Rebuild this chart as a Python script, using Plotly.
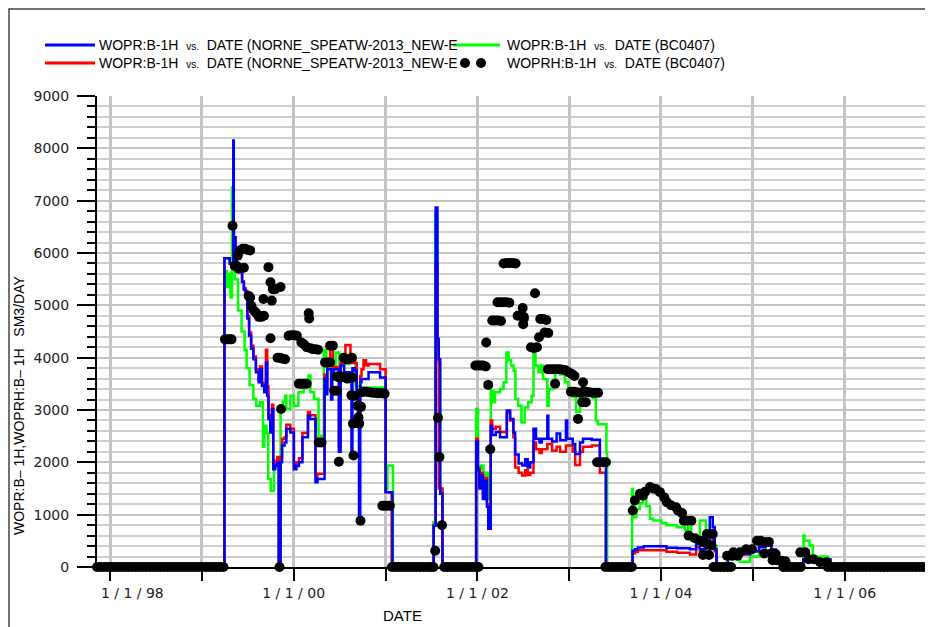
import plotly.graph_objects as go

# --- WOPR:B-1H, run NORNE_SPEATW-2013_NEW-E (blue) ---
blue_dates = ['1997-11-10', '1999-04-01', '1999-04-22', '1999-05-03', '1999-05-06', '1999-05-08', '1999-05-15',
              '1999-05-20', '1999-06-10', '1999-06-17', '1999-06-24', '1999-07-01', '1999-07-08', '1999-07-16',
              '1999-07-25', '1999-08-04', '1999-08-15', '1999-08-20', '1999-08-28', '1999-09-06', '1999-09-13',
              '1999-09-18', '1999-09-23', '1999-09-30', '1999-10-07', '1999-10-12', '1999-10-20', '1999-10-28',
              '1999-11-03', '1999-11-10', '1999-11-16', '1999-11-26', '1999-12-03', '1999-12-19', '2000-01-02',
              '2000-01-12', '2000-01-22', '2000-02-05', '2000-02-27', '2000-03-06', '2000-03-28', '2000-04-05',
              '2000-05-03', '2000-05-10', '2000-05-14', '2000-05-29', '2000-06-03', '2000-06-08', '2000-06-29',
              '2000-07-06', '2000-07-20', '2000-08-18', '2000-08-22', '2000-09-01', '2000-09-08', '2000-09-13',
              '2000-09-17', '2000-09-22', '2000-09-27', '2000-10-25', '2000-12-10', '2001-01-01', '2001-01-28',
              '2001-07-11', '2001-07-19', '2001-07-26', '2001-07-31', '2001-08-06', '2001-08-15', '2001-12-27',
              '2002-01-03', '2002-01-09', '2002-01-15', '2002-01-23', '2002-01-31', '2002-02-08', '2002-02-13',
              '2002-02-23', '2002-03-01', '2002-03-15', '2002-04-01', '2002-04-28', '2002-05-11', '2002-05-24',
              '2002-05-31', '2002-06-14', '2002-06-28', '2002-07-10', '2002-07-20', '2002-07-30', '2002-08-12',
              '2002-08-22', '2002-09-05', '2002-09-14', '2002-10-06', '2002-10-10', '2002-10-25', '2002-11-12',
              '2002-11-26', '2002-12-19', '2002-12-24', '2003-01-15', '2003-01-25', '2003-02-13', '2003-02-25',
              '2003-04-01', '2003-05-03', '2003-05-27', '2003-09-10', '2003-09-20', '2003-10-01', '2003-10-25',
              '2004-01-23', '2004-03-05', '2004-04-25', '2004-05-20', '2004-06-04', '2004-06-28', '2004-07-13',
              '2004-07-25', '2004-08-02', '2004-08-09', '2004-09-23', '2004-11-10', '2004-12-20', '2005-01-25',
              '2005-02-20', '2005-03-15', '2005-04-01', '2005-04-20', '2005-07-20', '2005-11-05', '2006-12-10']
blue_vals = [0, 5900, 5800, 5750, 8150, 6300, 5850,
             5700, 5450, 5300, 5250, 4750, 4420, 4170,
             3970, 3720, 3530, 3780, 3460, 3340, 3910,
             3270, 2830, 2570, 3020, 1870, 1940, 2000,
             0, 2000, 2320, 2380, 2640, 2570, 1870,
             1930, 2000, 2480, 2890, 2830, 1620, 1680,
             3600, 3300, 3780, 3200, 3650, 3780, 2200,
             3850, 3720, 2100, 3800, 3750, 3300, 2700,
             900, 3530, 3590, 3720, 3620, 1430, 0,
             790, 6870, 4360, 3970, 1400, 0, 2400,
             1850, 1500, 1750, 1300, 1650, 1150, 730,
             2700, 2520, 2580, 2480, 2990, 2830, 2570,
             2150, 1980, 1940, 2060, 1900, 2000, 2640,
             2450, 2380, 2450, 2890, 2450, 2400, 2550,
             2420, 2800, 2450, 2350, 2160, 2380, 2450,
             2430, 1940, 0, 310, 340, 375, 395,
             370, 360, 340, 470, 340, 375, 950,
             760, 340, 0, 180, 250, 300, 380,
             420, 330, 150, 0, 150, 0, 0]

# --- WOPR:B-1H, run NORNE_SPEATW-2013_NEW-E (red) ---
red_dates = ['1997-11-10', '1999-04-01', '1999-04-22', '1999-05-03', '1999-05-06', '1999-05-09', '1999-05-15',
             '1999-05-20', '1999-06-10', '1999-06-17', '1999-06-24', '1999-07-01', '1999-07-08', '1999-07-16',
             '1999-07-25', '1999-08-04', '1999-08-15', '1999-08-20', '1999-08-28', '1999-09-06', '1999-09-13',
             '1999-09-18', '1999-09-23', '1999-09-30', '1999-10-07', '1999-10-12', '1999-10-20', '1999-10-28',
             '1999-11-03', '1999-11-10', '1999-11-16', '1999-11-26', '1999-12-03', '1999-12-19', '2000-01-02',
             '2000-01-12', '2000-01-22', '2000-02-05', '2000-02-27', '2000-03-06', '2000-03-28', '2000-04-05',
             '2000-05-03', '2000-05-10', '2000-05-14', '2000-05-25', '2000-06-05', '2000-06-29', '2000-07-06',
             '2000-07-25', '2000-08-14', '2000-09-08', '2000-09-13', '2000-09-17', '2000-09-22', '2000-09-27',
             '2000-10-05', '2000-10-15', '2000-10-25', '2000-12-10', '2001-01-01', '2001-01-25', '2001-07-11',
             '2001-07-19', '2001-07-26', '2001-07-31', '2001-08-15', '2001-12-27', '2002-01-03', '2002-01-09',
             '2002-01-15', '2002-01-23', '2002-01-31', '2002-02-08', '2002-02-13', '2002-02-23', '2002-03-01',
             '2002-03-15', '2002-04-01', '2002-04-28', '2002-05-11', '2002-05-24', '2002-05-31', '2002-06-14',
             '2002-06-28', '2002-07-10', '2002-07-20', '2002-07-30', '2002-08-12', '2002-08-22', '2002-09-05',
             '2002-09-14', '2002-10-06', '2002-10-25', '2002-11-12', '2002-11-26', '2002-12-19', '2003-01-15',
             '2003-01-25', '2003-02-13', '2003-02-25', '2003-04-01', '2003-05-03', '2003-05-27', '2003-09-10',
             '2003-09-20', '2003-10-01', '2004-01-23', '2004-03-05', '2004-04-25', '2004-05-20', '2004-06-04',
             '2004-07-13', '2004-07-25', '2004-08-02', '2004-08-09', '2004-09-23', '2004-11-10', '2004-12-20',
             '2005-01-25', '2005-02-20', '2005-03-15', '2005-04-01', '2005-04-20', '2005-07-20', '2005-11-05',
             '2006-12-10']
red_vals = [0, 5900, 5800, 5750, 6400, 6300, 5850,
            5700, 5450, 5330, 5280, 4800, 4480, 4230,
            4020, 3780, 3580, 3830, 3520, 3400, 4150,
            3450, 2900, 2650, 3100, 1950, 2030, 2100,
            0, 2100, 2450, 2480, 2720, 2640, 1950,
            2000, 2080, 2560, 2960, 2900, 1720, 1780,
            3680, 3400, 3850, 4150, 3820, 2300, 3900,
            4240, 3900, 3350, 2800, 2650, 3650, 3780,
            3950, 3850, 3880, 3780, 1430, 0, 790,
            5800, 4200, 1500, 0, 2450, 1900, 1550,
            1800, 1350, 1700, 1200, 780, 2800, 2640,
            2680, 2580, 2950, 2800, 2480, 1900, 1800,
            1750, 1850, 1760, 1800, 2380, 2250, 2180,
            2250, 2350, 2220, 2300, 2200, 2320, 2200,
            1950, 2200, 2300, 2320, 1800, 0, 260,
            290, 320, 290, 270, 240, 380, 290,
            600, 480, 300, 0, 170, 240, 300,
            400, 440, 340, 150, 0, 130, 0,
            0]

# --- WOPR:B-1H, run BC0407 (green) ---
green_dates = ['1997-11-10', '1999-04-01', '1999-04-10', '1999-04-20', '1999-04-25', '1999-05-01', '1999-05-05',
               '1999-05-12', '1999-05-25', '1999-06-08', '1999-06-20', '1999-06-28', '1999-07-10', '1999-07-25',
               '1999-08-05', '1999-08-20', '1999-09-01', '1999-09-06', '1999-09-15', '1999-09-22', '1999-10-02',
               '1999-10-15', '1999-11-03', '1999-11-10', '1999-11-18', '1999-11-28', '1999-12-03', '1999-12-19',
               '2000-01-01', '2000-01-20', '2000-02-10', '2000-02-29', '2000-03-08', '2000-03-22', '2000-04-09',
               '2000-04-20', '2000-04-30', '2000-05-10', '2000-05-20', '2000-06-16', '2000-07-01', '2000-07-18',
               '2000-08-10', '2000-09-03', '2000-09-25', '2001-01-01', '2001-01-08', '2001-01-30', '2001-07-09',
               '2001-07-17', '2001-07-25', '2001-07-31', '2001-08-06', '2001-08-15', '2001-12-27', '2002-01-03',
               '2002-01-15', '2002-01-25', '2002-02-05', '2002-02-13', '2002-02-23', '2002-03-05', '2002-03-12',
               '2002-04-01', '2002-04-15', '2002-04-26', '2002-05-05', '2002-05-15', '2002-05-25', '2002-06-01',
               '2002-06-12', '2002-06-25', '2002-07-08', '2002-07-22', '2002-08-05', '2002-08-12', '2002-08-20',
               '2002-09-01', '2002-09-10', '2002-09-19', '2002-10-06', '2002-10-12', '2002-10-28', '2002-11-06',
               '2002-11-26', '2002-12-15', '2002-12-28', '2003-01-15', '2003-01-28', '2003-02-13', '2003-02-28',
               '2003-04-05', '2003-04-17', '2003-04-25', '2003-05-29', '2003-06-01', '2003-09-08', '2003-09-12',
               '2003-09-25', '2003-10-09', '2003-10-22', '2003-11-04', '2003-11-18', '2003-12-01', '2004-01-03',
               '2004-01-23', '2004-03-04', '2004-04-05', '2004-04-18', '2004-04-30', '2004-06-04', '2004-06-28',
               '2004-07-07', '2004-07-20', '2004-08-09', '2004-09-23', '2004-11-10', '2004-12-20', '2005-01-25',
               '2005-02-20', '2005-03-15', '2005-04-01', '2005-04-20', '2005-07-21', '2005-07-25', '2005-08-14',
               '2005-08-27', '2005-09-23', '2005-10-26', '2006-12-10']
green_vals = [0, 5650, 5350, 5600, 5150, 7250, 5950,
              5500, 4900, 4500, 4150, 3800, 3480, 3210,
              3080, 3150, 2300, 2700, 2550, 1680, 1450,
              1900, 0, 2960, 3150, 3270, 3020, 3270,
              3080, 3340, 3460, 3660, 3340, 3210, 2450,
              2510, 4150, 3900, 3780, 4100, 3850, 3880,
              3940, 3460, 3430, 1490, 1940, 0, 850,
              6750, 4300, 3900, 1500, 0, 3020, 1870,
              1940, 1620, 1800, 1300, 3370, 3150, 3340,
              3400, 3530, 4100, 3950, 3850, 3750, 3210,
              3080, 2760, 3050, 3150, 3270, 4070, 3850,
              3720, 3850, 3590, 3080, 3400, 3450, 3720,
              3680, 3530, 3400, 3250, 2960, 3210, 3270,
              3230, 2800, 2730, 2190, 0, 1490, 950,
              1110, 1220, 1330, 1160, 920, 890, 840,
              800, 760, 700, 760, 500, 890, 660,
              500, 400, 0, 150, 100, 200, 380,
              430, 300, 120, 0, 600, 500, 410,
              185, 200, 0, 0]

# --- WOPRH:B-1H, history BC0407 (black markers), producing periods ---
hist_dates = ['1999-04-03', '1999-04-12', '1999-04-21', '1999-04-29', '1999-05-03', '1999-05-12', '1999-05-20',
              '1999-05-28', '1999-05-24', '1999-06-02', '1999-06-12', '1999-06-22', '1999-07-02', '1999-07-12',
              '1999-06-17', '1999-07-06', '1999-07-12', '1999-07-17', '1999-07-27', '1999-08-06', '1999-08-16',
              '1999-08-26', '1999-09-05', '1999-09-03', '1999-10-06', '1999-09-23', '1999-10-01', '1999-10-10',
              '1999-10-20', '1999-11-10', '1999-10-01', '1999-10-29', '1999-11-08', '1999-11-18', '1999-11-28',
              '1999-11-06', '1999-11-12', '1999-12-12', '1999-12-22', '2000-01-03', '2000-01-14', '2000-01-22',
              '2000-02-01', '2000-02-11', '2000-02-22', '2000-02-01', '2000-02-12', '2000-02-22', '2000-03-08',
              '2000-03-18', '2000-03-28', '2000-04-07', '2000-03-01', '2000-03-03', '2000-04-10', '2000-04-21',
              '2000-05-05', '2000-05-15', '2000-05-25', '2000-05-25', '2000-06-05', '2000-06-10', '2000-06-20',
              '2000-06-20', '2000-07-01', '2000-07-12', '2000-07-22', '2000-08-02', '2000-08-12', '2000-08-22',
              '2000-07-18', '2000-07-28', '2000-08-08', '2000-08-20', '2000-06-29', '2000-08-26', '2000-08-18',
              '2000-08-30', '2000-09-12', '2000-09-25', '2000-09-15', '2000-08-24', '2000-09-05', '2000-09-18',
              '2000-09-23', '2000-09-28', '2000-10-08', '2000-10-18', '2000-10-28', '2000-11-08', '2000-11-18',
              '2000-11-28', '2000-12-08', '2000-12-18', '2000-12-28', '2000-12-19', '2000-12-29', '2001-01-08',
              '2001-01-18', '2001-07-17', '2001-07-28', '2001-08-03', '2001-08-13',
              '2001-12-24', '2002-01-04', '2002-01-14', '2002-01-24', '2002-02-03', '2002-02-05', '2002-02-13',
              '2002-02-21', '2002-03-01', '2002-03-12', '2002-03-24', '2002-04-05', '2002-03-22', '2002-04-02',
              '2002-04-14', '2002-04-26', '2002-05-08', '2002-04-15', '2002-04-27', '2002-05-09', '2002-05-21',
              '2002-06-02', '2002-06-10', '2002-06-22', '2002-07-04', '2002-06-30', '2002-07-05', '2002-07-02',
              '2002-08-18', '2002-09-08', '2002-09-20', '2002-10-02', '2002-09-25', '2002-10-10', '2002-09-03',
              '2002-08-02', '2002-08-14', '2002-08-26', '2002-10-08', '2002-10-20', '2002-11-01', '2002-11-13',
              '2002-11-25', '2002-12-07', '2002-11-06', '2002-12-18', '2002-12-30', '2003-01-11', '2003-01-22',
              '2003-02-25', '2003-01-08', '2003-01-20', '2003-02-01', '2003-02-13', '2003-02-25', '2003-03-09',
              '2003-03-21', '2003-04-02', '2003-04-14', '2003-04-26', '2003-02-22', '2003-03-08', '2003-02-05',
              '2003-04-22', '2003-05-03', '2003-05-15', '2003-05-27',
              '2003-09-11', '2003-09-19', '2003-10-09', '2003-10-21', '2003-10-30', '2003-11-18', '2003-12-01',
              '2003-12-12', '2003-12-28', '2004-01-14', '2004-01-24', '2004-02-10', '2004-03-01', '2004-03-08',
              '2004-03-25', '2004-04-01', '2004-04-15', '2004-05-01', '2004-04-20', '2004-05-15', '2004-06-05',
              '2004-06-20', '2004-07-05', '2004-07-20', '2004-06-16', '2004-07-10', '2004-07-02', '2004-07-25',
              '2004-09-20', '2004-10-10', '2004-11-01', '2004-10-15', '2004-11-10', '2004-12-05', '2004-12-28',
              '2005-01-17', '2005-02-01', '2005-02-18', '2005-03-05', '2005-02-15', '2005-03-15', '2005-04-01',
              '2005-03-20', '2005-04-05', '2005-04-25', '2005-05-10',
              '2005-07-08', '2005-07-28', '2005-08-10', '2005-08-30', '2005-09-25', '2005-10-20']
hist_vals = [4350, 4350, 4350, 4350, 6520, 5750, 5750,
             5700, 5950, 6050, 6080, 6080, 6060, 6050,
             5720, 5180, 5150, 4990, 4900, 4850, 4780,
             4780, 4800, 5120, 5090, 5730, 5440, 5310,
             5310, 5350, 4370, 4000, 4000, 3980, 3970,
             0, 3020, 4420, 4430, 4430, 4420, 3500,
             3500, 3500, 3500, 4290, 4250, 4200, 4180,
             4160, 4160, 4150, 4850, 4750, 2380, 2380,
             3910, 3910, 3910, 4230, 4230, 3370, 3370,
             3640, 3620, 3640, 3620, 3600, 3620, 3620,
             4000, 3970, 3980, 4000, 2010, 2130, 3280,
             3270, 3080, 3060, 2860, 2740, 2760, 2740,
             885, 3340, 3350, 3350, 3340, 3330, 3330,
             3320, 3320, 3320, 3310, 1170, 1170, 1170,
             1170, 310, 2850, 2100, 800,
             3850, 3850, 3850, 3850, 3830, 4290, 3480,
             2250, 4710, 4710, 4710, 4700, 5060, 5060,
             5060, 5060, 5050, 5800, 5810, 5810, 5810,
             5800, 4800, 4800, 4780, 4950, 4750, 4640,
             5230, 4740, 4740, 4720, 4480, 4470, 4390,
             4200, 4180, 4200, 3780, 3780, 3780, 3780,
             3780, 3770, 3500, 3760, 3720, 3690, 3650,
             3530, 3350, 3350, 3340, 3330, 3350, 3350,
             3340, 3330, 3330, 3330, 3150, 3150, 2830,
             2000, 2000, 2000, 2000,
             1080, 1270, 1400, 1360, 1440, 1530, 1500,
             1490, 1430, 1330, 1240, 1180, 1140, 1080,
             1030, 885, 885, 885, 600, 550, 500,
             470, 430, 410, 230, 230, 630, 630,
             215, 215, 215, 280, 280, 340, 340,
             500, 500, 480, 480, 260, 260, 250,
             130, 130, 120, 110,
             280, 280, 150, 150, 90, 90]

# --- WOPRH:B-1H history, report dates with zero rate (well shut) ---
hist_zero_dates = ['1997-11-10', '1997-11-24', '1997-12-08', '1997-12-22', '1998-01-05', '1998-01-19', '1998-02-02',
                   '1998-02-16', '1998-03-02', '1998-03-16', '1998-03-30', '1998-04-13', '1998-04-27', '1998-05-11',
                   '1998-05-25', '1998-06-08', '1998-06-22', '1998-07-06', '1998-07-20', '1998-08-03', '1998-08-17',
                   '1998-08-31', '1998-09-14', '1998-09-28', '1998-10-12', '1998-10-26', '1998-11-09', '1998-11-23',
                   '1998-12-07', '1998-12-21', '1999-01-04', '1999-01-18', '1999-02-01', '1999-02-15', '1999-03-01',
                   '1999-03-15', '1999-03-28',
                   '2001-01-26', '2001-02-09', '2001-02-23', '2001-03-09', '2001-03-23', '2001-04-06', '2001-04-20',
                   '2001-05-04', '2001-05-18', '2001-06-01', '2001-06-15', '2001-06-29', '2001-07-10',
                   '2001-08-22', '2001-09-05', '2001-09-19', '2001-10-03', '2001-10-17', '2001-10-31', '2001-11-14',
                   '2001-11-28', '2001-12-12', '2001-12-24', '2002-01-05',
                   '2003-05-25', '2003-06-08', '2003-06-22', '2003-07-06', '2003-07-20', '2003-08-03', '2003-08-17',
                   '2003-08-31', '2003-09-07',
                   '2004-07-28', '2004-08-11', '2004-08-25', '2004-09-08', '2004-09-22', '2004-10-06',
                   '2005-05-01', '2005-05-15', '2005-05-29', '2005-06-12', '2005-06-26', '2005-07-10',
                   '2005-10-25', '2005-11-08', '2005-11-22', '2005-12-06', '2005-12-20', '2006-01-03', '2006-01-17',
                   '2006-01-31', '2006-02-14', '2006-02-28', '2006-03-14', '2006-03-28', '2006-04-11', '2006-04-25',
                   '2006-05-09', '2006-05-23', '2006-06-06', '2006-06-20', '2006-07-04', '2006-07-18', '2006-08-01',
                   '2006-08-15', '2006-08-29', '2006-09-12', '2006-09-26', '2006-10-10', '2006-10-24', '2006-11-07',
                   '2006-11-21', '2006-12-05']
hist_zero_vals = [0] * len(hist_zero_dates)

year_ticks = ['1998-01-01', '1999-01-01', '2000-01-01', '2001-01-01', '2002-01-01',
              '2003-01-01', '2004-01-01', '2005-01-01', '2006-01-01']
year_labels = ['\u00a0' * 10 + '1 / 1 / 98', '', '1 / 1 / 00', '', '1 / 1 / 02', '', '1 / 1 / 04', '', '1 / 1 / 06']

fig = go.Figure()
fig.add_trace(go.Scatter(x=green_dates, y=green_vals, mode='lines', name='WOPR:B-1H vs. DATE (BC0407)',
                         line=dict(color='#00ff00', width=2.5, shape='hv')))
fig.add_trace(go.Scatter(x=red_dates, y=red_vals, mode='lines', name='WOPR:B-1H vs. DATE (NORNE_SPEATW-2013_NEW-E)',
                         line=dict(color='#ff0000', width=2.5, shape='hv')))
fig.add_trace(go.Scatter(x=blue_dates, y=blue_vals, mode='lines', name='WOPR:B-1H vs. DATE (NORNE_SPEATW-2013_NEW-E)',
                         line=dict(color='#0000ff', width=2.5, shape='hv')))
fig.add_trace(go.Scatter(x=hist_zero_dates + hist_dates, y=hist_zero_vals + hist_vals, mode='markers',
                         name='WOPRH:B-1H vs. DATE (BC0407)',
                         marker=dict(color='black', size=10, symbol='circle', line=dict(width=0)), cliponaxis=False))

# The page body has an 8 px margin, so the figure starts at screen (8, 8).
# Plot area on screen: x 97..931, y 96..567.
def px(x):
    return (x - 97) / 834

def py(y):
    return (567 - y) / 471

vs = '\u00a0\u00a0<span style="font-size:10px">vs.</span>\u00a0\u00a0'
legend_rows = [
    ('WOPR:B-1H' + vs + 'DATE (NORNE_SPEATW-2013_NEW-E', '#0000ff', 45, 95, 97, 45),
    ('WOPR:B-1H' + vs + 'DATE (BC0407)', '#00ff00', 453, 500, 505, 45),
    ('WOPR:B-1H' + vs + 'DATE (NORNE_SPEATW-2013_NEW-E', '#ff0000', 45, 95, 97, 63),
    ('WOPRH:B-1H' + vs + 'DATE (BC0407)', None, 453, 500, 505, 63),
]
shapes = []
annotations = []
for text, color, x0, x1, xt, yy in legend_rows:
    annotations.append(dict(text=text, x=px(xt), y=py(yy), xref='paper', yref='paper', xanchor='left',
                            yanchor='middle', showarrow=False, font=dict(family='Liberation Sans', size=14, color='black')))
    if color:
        shapes.append(dict(type='line', xref='paper', yref='paper', x0=px(x0), x1=px(x1), y0=py(yy), y1=py(yy),
                           line=dict(color=color, width=3)))
    else:
        for cx in (465, 481):
            shapes.append(dict(type='circle', xref='paper', yref='paper', xsizemode='pixel', ysizemode='pixel',
                               xanchor=px(cx), yanchor=py(yy), x0=-5, x1=5, y0=-5, y1=5,
                               fillcolor='black', line=dict(color='black', width=0)))
# outer frame
shapes.append(dict(type='rect', xref='paper', yref='paper', x0=px(9), x1=px(931), y0=py(660), y1=py(9),
                   line=dict(color='#444444', width=1.5), layer='above'))

annotations.append(dict(text='WOPR:B\u2013 1H,WOPRH:B\u2013 1H\u00a0\u00a0\u00a0SM3/DAY', textangle=-90,
                        x=px(19), y=py(406), xref='paper', yref='paper', xanchor='center', yanchor='middle',
                        showarrow=False, font=dict(family='Liberation Sans', size=14, color='black')))
annotations.append(dict(text='DATE', x=px(402), y=py(615), xref='paper', yref='paper', xanchor='center',
                        yanchor='middle', showarrow=False, font=dict(family='Liberation Sans', size=15, color='black')))

fig.update_layout(
    width=925, height=619,
    margin=dict(l=89, r=2, t=88, b=60),
    paper_bgcolor='white', plot_bgcolor='white',
    showlegend=False,
    shapes=shapes, annotations=annotations,
    xaxis=dict(type='date', range=['1997-11-10', '2006-12-10'], tickvals=year_ticks, ticktext=year_labels,
               ticks='outside', ticklen=12, tickwidth=2, tickcolor='black',
               showgrid=True, gridcolor='#c4c4c4', gridwidth=2.5,
               showline=True, linecolor='black', linewidth=2, zeroline=False,
               tickfont=dict(family='DejaVu Sans', size=14, color='#222222')),
    yaxis=dict(range=[0, 9000], dtick=1000, tickformat='d',
               ticks='outside', ticklen=18, tickwidth=2, tickcolor='black', ticklabelstandoff=5,
               showgrid=True, gridcolor='#c4c4c4', gridwidth=2,
               minor=dict(dtick=200, ticks='outside', ticklen=8, tickwidth=2, tickcolor='black',
                          showgrid=True, gridcolor='#cfcfcf', gridwidth=1.5),
               showline=True, linecolor='black', linewidth=2, zeroline=False,
               tickfont=dict(family='DejaVu Sans', size=14, color='#222222')),
)

fig.write_html('out.html')
